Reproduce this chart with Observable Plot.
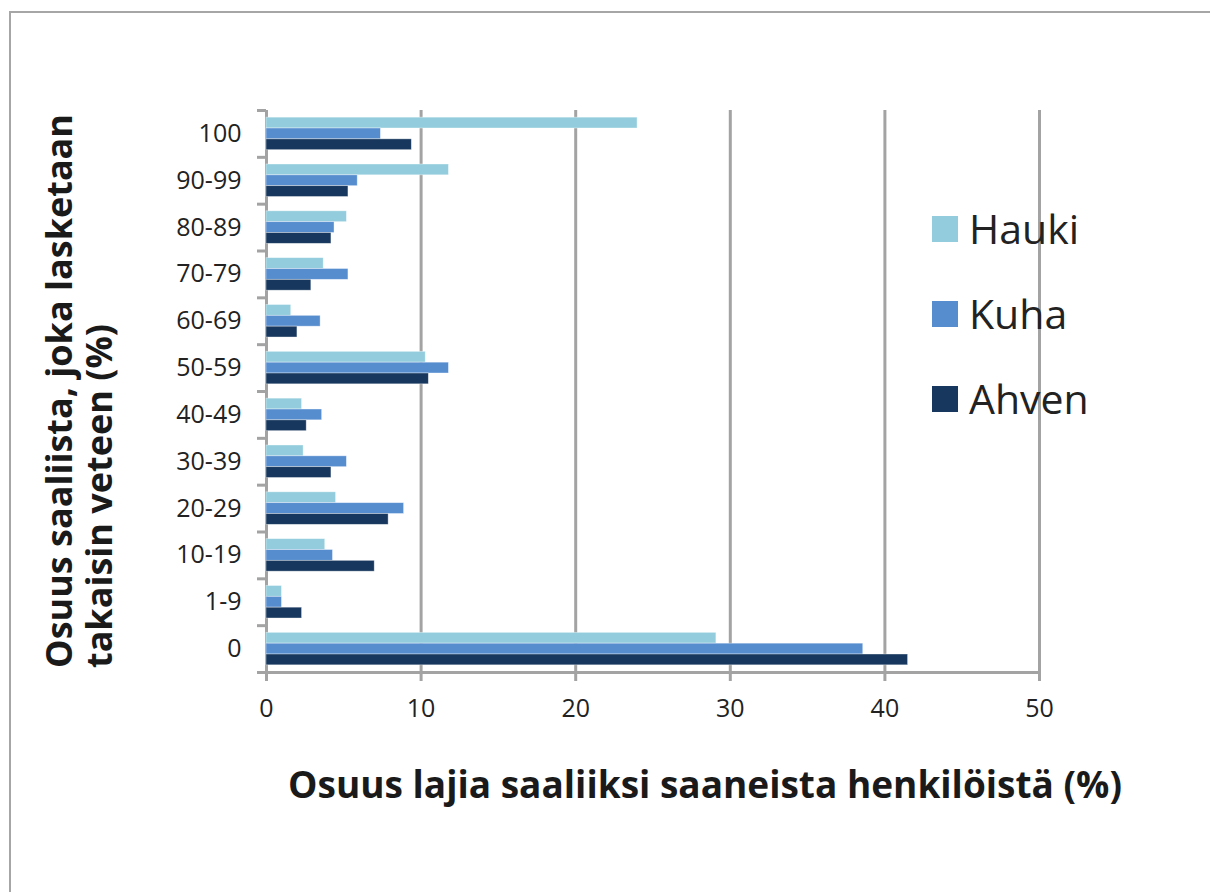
<!DOCTYPE html>
<html>
<head>
<meta charset="utf-8">
<script src="https://cdn.jsdelivr.net/npm/d3@7"></script>
<script src="https://cdn.jsdelivr.net/npm/@observablehq/plot@0.6"></script>
<style>
  html, body { margin: 0; padding: 0; background: #fff; }
  #wrap { position: relative; width: 1210px; height: 892px; overflow: hidden; font-family: "Open Sans", sans-serif; }
  #wrap > svg { position: absolute; left: 0; top: 0; }
  #border { position: absolute; left: 9px; top: 11px; right: -5px; bottom: -5px; border-left: 2px solid #a6a6a6; border-top: 2px solid #a6a6a6; }
</style>
</head>
<body>
<div id="wrap"><div id="border"></div></div>
<script>
// ---- data ----
const categories = ["100", "90-99", "80-89", "70-79", "60-69", "50-59", "40-49", "30-39", "20-29", "10-19", "1-9", "0"];
const series = ["Hauki", "Kuha", "Ahven"];
const hauki = [24.0, 11.8, 5.2, 3.7, 1.6, 10.3, 2.3, 2.4, 4.5, 3.8, 1.0, 29.1];
const kuha  = [7.4, 5.9, 4.4, 5.3, 3.5, 11.8, 3.6, 5.2, 8.9, 4.3, 1.0, 38.6];
const ahven = [9.4, 5.3, 4.2, 2.9, 2.0, 10.5, 2.6, 4.2, 7.9, 7.0, 2.3, 41.5];
const xTicks = [0, 10, 20, 30, 40, 50];
const colors = ["#93cddd", "#568dcf", "#17375e"];
const xTitle = "Osuus lajia saaliiksi saaneista henkilöistä (%)";
const yTitleLines = ["Osuus saaliista, joka lasketaan", "takaisin veteen (%)"];

const valuesBySeries = {Hauki: hauki, Kuha: kuha, Ahven: ahven};
const data = [];
categories.forEach((c, i) => series.forEach(s => data.push({category: c, series: s, value: valuesBySeries[s][i]})));

// ---- layout ----
const W = 1210, H = 892;
const M = {left: 266, right: 171, top: 110, bottom: 220};
const gray = "#a3a3a3";
const textColor = "#222222";
const wrap = document.getElementById("wrap");

// background: gridlines, axis lines, ticks
const bg = Plot.plot({
  width: W, height: H,
  marginLeft: M.left, marginRight: M.right, marginTop: M.top, marginBottom: M.bottom,
  style: {background: "transparent", color: textColor, fontFamily: "'Open Sans', sans-serif", fontSize: "25px"},
  x: {domain: [0, 50]},
  y: {domain: [0, categories.length]},
  marks: [
    Plot.ruleX(xTicks.slice(1), {stroke: gray, strokeWidth: 3}),
    Plot.ruleX([0], {stroke: gray, strokeWidth: 3}),
    Plot.ruleY([0], {stroke: gray, strokeWidth: 3}),
    Plot.axisY(d3.range(categories.length + 1), {tickSize: 9, stroke: gray, strokeWidth: 3, tickFormat: () => "", label: null}),
    Plot.axisX(xTicks, {tickSize: 9, tickPadding: 18, stroke: gray, strokeWidth: 3, fill: textColor, fontSize: 25, label: null})
  ]
});
wrap.appendChild(bg);

// foreground: bars + category labels
const fg = Plot.plot({
  width: W, height: H,
  marginLeft: M.left, marginRight: M.right, marginTop: M.top, marginBottom: M.bottom,
  style: {background: "transparent", color: textColor, fontFamily: "'Open Sans', sans-serif", fontSize: "25px"},
  facet: {data, y: "category"},
  fy: {domain: categories, padding: 0, round: false},
  y: {domain: series, paddingInner: 0, paddingOuter: 0.66, round: false, axis: null},
  x: {domain: [0, 50], axis: null},
  color: {domain: series, range: colors},
  marks: [
    Plot.barX(data, {y: "series", x: "value", fill: "series", stroke: "#ffffff", strokeOpacity: 0.5, strokeWidth: 0.75}),
    Plot.axisFy({anchor: "left", tickSize: 0, tickPadding: 25, fontSize: 25, fill: textColor, label: null})
  ]
});
wrap.appendChild(fg);

// titles and legend
const svg = d3.select(wrap).append("svg")
  .attr("width", W).attr("height", H)
  .style("font-family", "'Open Sans', sans-serif");

svg.append("text")
  .attr("x", 705).attr("y", 798)
  .attr("text-anchor", "middle")
  .attr("font-size", 37).attr("font-weight", "bold").attr("fill", "#1a1a1a")
  .text(xTitle);

const yt = svg.append("text")
  .attr("transform", "translate(72,668) rotate(-90)")
  .attr("font-size", 36).attr("font-weight", "bold").attr("fill", "#1a1a1a");
yTitleLines.forEach((line, i) => {
  yt.append("tspan").attr("x", 0).attr("y", i * 40).text(line);
});

const legend = svg.append("g");
series.forEach((s, i) => {
  const g = legend.append("g").attr("transform", `translate(0,${i * 85})`);
  g.append("rect").attr("x", 932).attr("y", 216).attr("width", 26).attr("height", 26).attr("fill", colors[i]);
  g.append("text").attr("x", 969).attr("y", 244).attr("font-size", 41).attr("fill", textColor).text(s);
});
</script>
</body>
</html>
